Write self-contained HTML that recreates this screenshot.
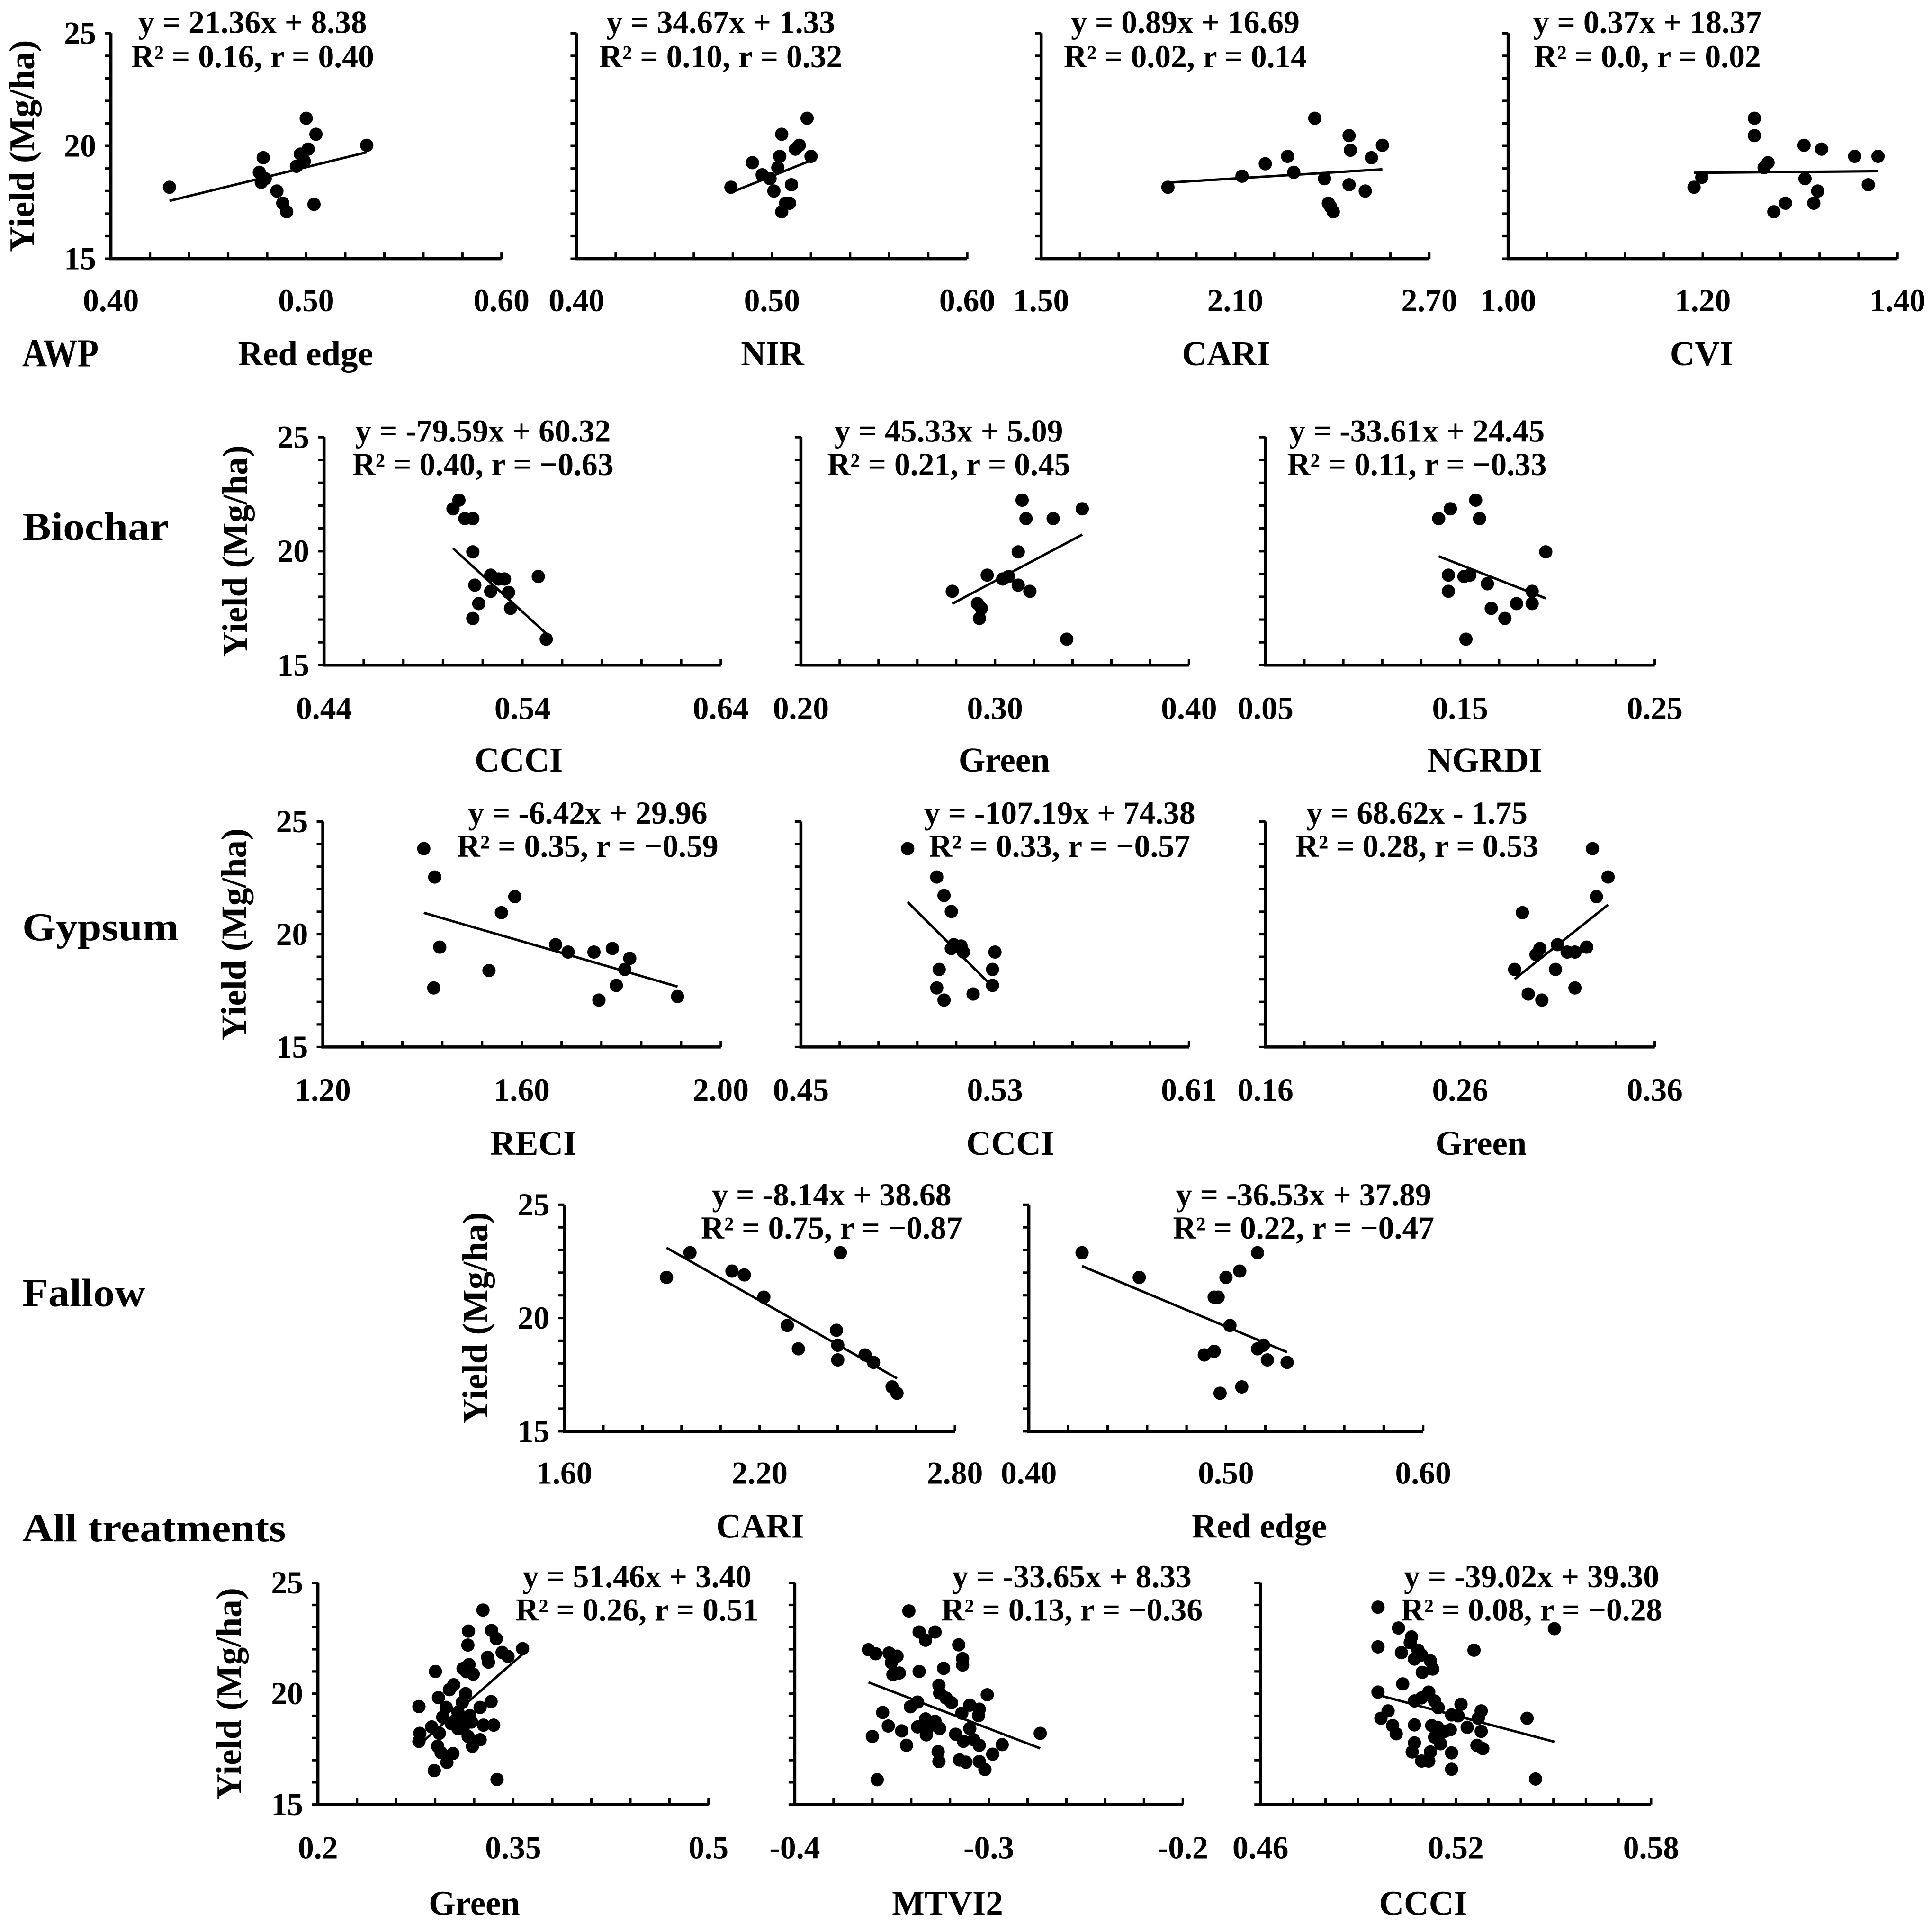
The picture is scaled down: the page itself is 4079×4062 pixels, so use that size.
<!DOCTYPE html>
<html><head><meta charset="utf-8"><style>
html,body{margin:0;padding:0;background:#fff;}
svg{display:block;}
text{font-family:"Liberation Serif","Times New Roman",serif;font-weight:bold;fill:#000;}
</style></head><body>
<svg id="chart" xmlns="http://www.w3.org/2000/svg" width="4079" height="4062" viewBox="0 0 1568 1562" preserveAspectRatio="none">
<rect x="0" y="0" width="1568" height="1562" fill="#fff"/>
<g id="labels">
<text x="18" y="287" font-size="32" textLength="62" lengthAdjust="spacingAndGlyphs" dominant-baseline="central">AWP</text>
<text x="18" y="428" font-size="32" textLength="119" lengthAdjust="spacingAndGlyphs" dominant-baseline="central">Biochar</text>
<text x="18" y="753" font-size="32" textLength="127" lengthAdjust="spacingAndGlyphs" dominant-baseline="central">Gypsum</text>
<text x="18" y="1050" font-size="32" textLength="100" lengthAdjust="spacingAndGlyphs" dominant-baseline="central">Fallow</text>
<text x="18" y="1241" font-size="32" textLength="214" lengthAdjust="spacingAndGlyphs" dominant-baseline="central">All treatments</text>
</g>
</svg>
<script>
// ---- data (x = index value, y = yield Mg/ha) ----
const awpRedEdgeX=[0.430,0.478,0.477,0.476,0.479,0.485,0.488,0.490,0.495,0.497,0.500,0.501,0.505,0.504,0.531,0.499];
const awpRedEdgeY=[18.17,19.48,18.39,18.83,18.55,18.0,17.46,17.08,19.1,19.64,21.23,19.86,20.52,17.41,20.03,19.32];
const awpRedEdgeFit=[21.36,8.38];
const awpNirX=[0.479,0.490,0.495,0.499,0.501,0.503,0.505,0.504,0.505,0.507,0.509,0.510,0.512,0.514,0.518,0.520];
const awpNirY=[18.17,19.26,18.72,18.55,18.0,19.04,20.52,19.54,17.08,17.46,17.46,18.28,19.86,20.03,21.23,19.54];
const awpNirFit=[34.67,1.33];
const awpCariX=[1.892,2.121,2.193,2.262,2.281,2.346,2.376,2.388,2.395,2.403,2.452,2.456,2.452,2.502,2.521,2.555];
const awpCariY=[18.17,18.66,19.21,19.54,18.83,21.23,18.55,17.46,17.30,17.08,20.46,19.81,18.28,18.0,19.48,20.03];
const awpCariFit=[0.89,16.69];
const awpCviX=[1.191,1.199,1.253,1.253,1.263,1.267,1.273,1.285,1.304,1.305,1.314,1.318,1.322,1.356,1.370,1.380];
const awpCviY=[18.17,18.61,21.23,20.46,19.04,19.26,17.08,17.46,20.03,18.55,17.46,18.0,19.86,19.54,18.28,19.54];
const awpCviFit=[0.37,18.37];
const bioCcciX=[0.505,0.508,0.511,0.515,0.515,0.516,0.518,0.515,0.524,0.524,0.528,0.531,0.533,0.534,0.548,0.552];
const bioCcciY=[21.86,22.24,21.43,21.43,19.97,18.51,17.70,17.05,18.95,18.24,18.78,18.78,18.19,17.49,18.89,16.14];
const bioCcciFit=[-79.59,60.32];
const bioGreenX=[0.278,0.291,0.293,0.292,0.296,0.304,0.307,0.312,0.312,0.314,0.316,0.318,0.330,0.337,0.345];
const bioGreenY=[18.24,17.70,17.49,17.05,18.95,18.78,18.89,19.97,18.51,22.24,21.43,18.24,21.43,16.14,21.86];
const bioGreenFit=[45.33,5.09];
const bioNgrdiX=[0.139,0.145,0.144,0.144,0.152,0.153,0.155,0.158,0.160,0.164,0.166,0.173,0.179,0.187,0.187,0.194];
const bioNgrdiY=[21.43,21.86,18.95,18.24,18.89,16.14,18.95,22.24,21.43,18.57,17.49,17.05,17.70,17.70,18.24,19.97];
const bioNgrdiFit=[-33.61,24.45];
const gypReciX=[1.403,1.425,1.435,1.423,1.534,1.559,1.586,1.668,1.693,1.745,1.782,1.790,1.755,1.817,1.807,1.913];
const gypReciY=[23.80,22.54,19.43,17.62,18.39,20.96,21.67,19.54,19.21,19.21,19.37,17.73,17.08,18.93,18.44,17.24];
const gypReciFit=[-6.42,29.96];
const gypCcciX=[0.494,0.506,0.509,0.512,0.513,0.512,0.516,0.517,0.507,0.506,0.509,0.521,0.529,0.530,0.529];
const gypCcciY=[23.80,22.54,21.72,21.01,19.54,19.37,19.48,19.21,18.44,17.62,17.08,17.35,17.73,19.21,18.44];
const gypCcciFit=[-107.19,74.38];
const gypGreenX=[0.288,0.292,0.295,0.299,0.301,0.302,0.309,0.310,0.315,0.319,0.325,0.319,0.330,0.328,0.336];
const gypGreenY=[18.44,20.96,17.35,19.10,19.37,17.08,18.44,19.54,19.21,19.21,19.43,17.62,21.67,23.80,22.54];
const gypGreenFit=[68.62,-1.75];
const falCariX=[1.914,1.986,2.115,2.153,2.213,2.285,2.319,2.448,2.436,2.440,2.440,2.524,2.550,2.607,2.622];
const falCariY=[21.79,22.88,22.07,21.90,20.92,19.67,18.64,22.88,19.46,18.80,18.15,18.37,18.04,16.96,16.68];
const falCariFit=[-8.14,38.68];
const falRedEdgeX=[0.427,0.456,0.489,0.494,0.496,0.494,0.497,0.500,0.502,0.507,0.508,0.516,0.516,0.519,0.521,0.531];
const falRedEdgeY=[22.88,21.79,18.37,20.92,20.92,18.53,16.68,21.79,19.67,22.07,16.96,22.88,18.64,18.80,18.15,18.04];
const falRedEdgeFit=[-36.53,37.89];
const allGreenX=[0.3268,0.3157,0.3334,0.337,0.3152,0.3572,0.3415,0.346,0.3304,0.331,0.2903,0.3161,0.3115,0.3193,0.3141,0.3043,0.301,0.2926,0.3135,0.3109,0.2776,0.333,0.3246,0.2985,0.3076,0.2959,0.3167,0.3024,0.3076,0.318,0.335,0.3272,0.2874,0.2783,0.2776,0.2933,0.3154,0.3246,0.3187,0.292,0.2946,0.3037,0.2991,0.2894,0.3376,0.3089,0.3115];
const allGreenY=[23.77,22.82,22.85,22.48,22.19,22.03,21.86,21.68,21.64,21.42,21.0,21.31,21.13,20.88,20.99,20.40,20.18,19.82,20.0,19.6,19.42,19.64,19.38,19.38,19.16,18.94,19.01,18.65,18.43,18.72,18.58,18.58,18.50,18.21,17.85,18.21,18.07,17.92,17.63,17.63,17.34,17.30,16.90,16.53,16.13,18.87,18.43];
const allGreenFit=[51.46,3.40];
const allMtviX=[-0.3412,-0.3359,-0.3277,-0.3326,-0.3155,-0.3620,-0.3583,-0.3514,-0.3473,-0.3502,-0.3135,-0.3135,-0.3233,-0.3359,-0.3494,-0.3461,-0.3257,-0.3253,-0.3008,-0.3220,-0.3192,-0.3367,-0.3404,-0.3098,-0.3049,-0.3547,-0.3053,-0.3139,-0.3518,-0.3449,-0.3367,-0.3326,-0.3277,-0.3322,-0.3253,-0.3314,-0.3098,-0.3171,-0.3131,-0.3078,-0.3049,-0.3600,-0.3424,-0.2931,-0.2980,-0.2735,-0.3261,-0.3257,-0.3151,-0.3118,-0.3049,-0.3020,-0.3575];
const allMtviY=[23.73,22.78,22.78,22.41,22.20,21.98,21.80,21.83,21.69,21.40,21.58,21.29,21.14,21.00,20.86,20.93,20.38,20.02,19.95,19.80,19.59,19.62,19.41,19.48,19.30,19.15,19.01,19.12,18.54,18.32,18.50,18.86,18.75,18.14,18.43,18.46,18.43,18.17,17.85,17.92,17.67,18.07,17.67,17.70,17.27,18.21,17.38,16.94,17.01,16.91,16.94,16.58,16.12];
const allMtviFit=[-33.65,8.33];
const allCcciX=[0.4961,0.5024,0.5064,0.5060,0.4961,0.5033,0.5084,0.5073,0.5095,0.5122,0.5129,0.5097,0.5256,0.5503,0.5037,0.4961,0.5073,0.5095,0.5117,0.5135,0.5146,0.5187,0.5216,0.5207,0.5278,0.5269,0.5419,0.4992,0.4970,0.5006,0.5017,0.5073,0.5126,0.5144,0.5235,0.5166,0.5183,0.5278,0.5135,0.5153,0.5073,0.5265,0.5283,0.5066,0.5122,0.5187,0.5095,0.5117,0.5187,0.5445];
const allCcciY=[23.90,22.96,22.56,22.30,22.11,21.85,21.96,21.56,21.74,21.48,21.11,20.96,21.96,22.93,20.44,20.07,19.67,19.81,20.07,19.67,19.37,19.04,19.52,19.00,19.22,18.89,18.89,19.22,18.89,18.56,18.19,18.59,18.56,18.48,18.48,18.30,18.37,18.30,18.04,17.74,17.78,17.67,17.52,17.37,17.37,17.33,16.96,16.96,16.59,16.15];
const allCcciFit=[-39.02,39.30];
const yTickLabels=["25","20","15"];

// ---- layout ----
const rows=[
 {top:27,bot:210,eq1:18,eq2:46,tl:244,tt:287},
 {top:355,bot:540,eq1:350,eq2:377,tl:575,tt:617},
 {top:667,bot:850,eq1:660,eq2:687,tl:885,tt:928},
 {top:978,bot:1162,eq1:970,eq2:997,tl:1196,tt:1239},
 {top:1285,bot:1465,eq1:1280,eq2:1307,tl:1500,tt:1545}
];
const panels=[
 {id:'awp-red-edge',r:0,x0:90,x1:407,min:0.40,max:0.60,n:10,ticks:["0.40","0.50","0.60"],title:"Red edge",tx:248,ex:205,e1:"y = 21.36x + 8.38",e2:"R² = 0.16, r = 0.40",X:awpRedEdgeX,Y:awpRedEdgeY,F:awpRedEdgeFit,ylab:true},
 {id:'awp-nir',r:0,x0:468,x1:785,min:0.40,max:0.60,n:10,ticks:["0.40","0.50","0.60"],title:"NIR",tx:627,ex:585,e1:"y = 34.67x + 1.33",e2:"R² = 0.10, r = 0.32",X:awpNirX,Y:awpNirY,F:awpNirFit},
 {id:'awp-cari',r:0,x0:845,x1:1160,min:1.50,max:2.70,n:10,ticks:["1.50","2.10","2.70"],title:"CARI",tx:995,ex:962,e1:"y = 0.89x + 16.69",e2:"R² = 0.02, r = 0.14",X:awpCariX,Y:awpCariY,F:awpCariFit},
 {id:'awp-cvi',r:0,x0:1224,x1:1540,min:1.00,max:1.40,n:10,ticks:["1.00","1.20","1.40"],title:"CVI",tx:1381,ex:1337,e1:"y = 0.37x + 18.37",e2:"R² = 0.0, r = 0.02",X:awpCviX,Y:awpCviY,F:awpCviFit},
 {id:'biochar-ccci',r:1,x0:263,x1:585,min:0.44,max:0.64,n:10,ticks:["0.44","0.54","0.64"],title:"CCCI",tx:421,ex:392,e1:"y = -79.59x + 60.32",e2:"R² = 0.40, r = −0.63",X:bioCcciX,Y:bioCcciY,F:bioCcciFit,ylab:true},
 {id:'biochar-green',r:1,x0:650,x1:965,min:0.20,max:0.40,n:10,ticks:["0.20","0.30","0.40"],title:"Green",tx:815,ex:770,e1:"y = 45.33x + 5.09",e2:"R² = 0.21, r = 0.45",X:bioGreenX,Y:bioGreenY,F:bioGreenFit},
 {id:'biochar-ngrdi',r:1,x0:1027,x1:1343,min:0.05,max:0.25,n:10,ticks:["0.05","0.15","0.25"],title:"NGRDI",tx:1205,ex:1150,e1:"y = -33.61x + 24.45",e2:"R² = 0.11, r = −0.33",X:bioNgrdiX,Y:bioNgrdiY,F:bioNgrdiFit},
 {id:'gypsum-reci',r:2,x0:262,x1:585,min:1.20,max:2.00,n:10,ticks:["1.20","1.60","2.00"],title:"RECI",tx:433,ex:477,e1:"y = -6.42x + 29.96",e2:"R² = 0.35, r = −0.59",X:gypReciX,Y:gypReciY,F:gypReciFit,ylab:true},
 {id:'gypsum-ccci',r:2,x0:650,x1:965,min:0.45,max:0.61,n:10,ticks:["0.45","0.53","0.61"],title:"CCCI",tx:820,ex:860,e1:"y = -107.19x + 74.38",e2:"R² = 0.33, r = −0.57",X:gypCcciX,Y:gypCcciY,F:gypCcciFit},
 {id:'gypsum-green',r:2,x0:1027,x1:1343,min:0.16,max:0.36,n:10,ticks:["0.16","0.26","0.36"],title:"Green",tx:1202,ex:1150,e1:"y = 68.62x - 1.75",e2:"R² = 0.28, r = 0.53",X:gypGreenX,Y:gypGreenY,F:gypGreenFit},
 {id:'fallow-cari',r:3,x0:458,x1:775,min:1.60,max:2.80,n:10,ticks:["1.60","2.20","2.80"],title:"CARI",tx:617,ex:675,e1:"y = -8.14x + 38.68",e2:"R² = 0.75, r = −0.87",X:falCariX,Y:falCariY,F:falCariFit,ylab:true},
 {id:'fallow-red-edge',r:3,x0:835,x1:1155,min:0.40,max:0.60,n:10,ticks:["0.40","0.50","0.60"],title:"Red edge",tx:1022,ex:1058,e1:"y = -36.53x + 37.89",e2:"R² = 0.22, r = −0.47",X:falRedEdgeX,Y:falRedEdgeY,F:falRedEdgeFit},
 {id:'all-green',r:4,x0:258,x1:575,min:0.2,max:0.5,n:10,ticks:["0.2","0.35","0.5"],title:"Green",tx:385,ex:517,e1:"y = 51.46x + 3.40",e2:"R² = 0.26, r = 0.51",X:allGreenX,Y:allGreenY,F:allGreenFit,ylab:true},
 {id:'all-mtvi2',r:4,x0:645,x1:960,min:-0.4,max:-0.2,n:10,ticks:["-0.4","-0.3","-0.2"],title:"MTVI2",tx:769,ex:870,e1:"y = -33.65x + 8.33",e2:"R² = 0.13, r = −0.36",X:allMtviX,Y:allMtviY,F:allMtviFit},
 {id:'all-ccci',r:4,x0:1023,x1:1340,min:0.46,max:0.58,n:12,ticks:["0.46","0.52","0.58"],title:"CCCI",tx:1155,ex:1243,e1:"y = -39.02x + 39.30",e2:"R² = 0.08, r = −0.28",X:allCcciX,Y:allCcciY,F:allCcciFit}
];
const NS='http://www.w3.org/2000/svg';
const svg=document.getElementById('chart');
function mk(tag,attrs,parent){const e=document.createElementNS(NS,tag);for(const k in attrs)e.setAttribute(k,attrs[k]);parent.appendChild(e);return e;}
panels.forEach(p=>{
 const R=rows[p.r];
 const sx=v=>p.x0+(v-p.min)/(p.max-p.min)*(p.x1-p.x0);
 const sy=v=>R.bot-(v-15)/10*(R.bot-R.top);
 const g=mk('g',{},svg);
 
 
 const ax=mk('path',{d:`M${p.x0},${R.top} L${p.x0},${R.bot} L${p.x1},${R.bot}`,fill:'none',stroke:'#000','stroke-width':2.5},g);
 
 
 let td='';
 for(let v=15;v<=25;v++){const y=sy(v);td+=`M${p.x0-5},${y} L${p.x0},${y} `;}
 for(let i=1;i<=p.n;i++){const x=p.x0+i*(p.x1-p.x0)/p.n;td+=`M${x},${R.bot} L${x},${R.bot-5} `;}
 const tk=mk('path',{d:td,stroke:'#000','stroke-width':2,fill:'none'},g);
 
 
 p.ticks.forEach((t,i)=>{
  const v=p.min+i*(p.max-p.min)/2;
  const e=mk('text',{x:sx(v),y:R.tl,'font-size':26,'text-anchor':'middle','dominant-baseline':'central'},g);
  e.textContent=t;
  
  
 });
 const ti=mk('text',{x:p.tx,y:R.tt,'font-size':28,'text-anchor':'middle','dominant-baseline':'central'},g);
 ti.textContent=p.title;
 
 
 if(p.ylab){
  [25,20,15].forEach((v,i)=>{
   const e=mk('text',{x:p.x0-12,y:sy(v),'font-size':26,'text-anchor':'end','dominant-baseline':'central'},g);
   e.textContent=yTickLabels[i];
   
   
  });
  const cy=(R.top+R.bot)/2, cx=p.x0-72;
  const yl=mk('text',{x:cx,y:cy,'font-size':29,'text-anchor':'middle','dominant-baseline':'central',transform:`rotate(-90 ${cx} ${cy})`},g);
  yl.textContent='Yield (Mg/ha)';
  
  
 }
 [p.e1,p.e2].forEach((s,i)=>{
  const e=mk('text',{x:p.ex,y:i?R.eq2:R.eq1,'font-size':26,'text-anchor':'middle','dominant-baseline':'central'},g);
  e.textContent=s;
  
  
 });
 p.X.forEach((xv,i)=>{
  const c=mk('circle',{cx:sx(xv),cy:sy(p.Y[i]),r:5.4,fill:'#000'},g);
  
  
 });
 const xmn=Math.min(...p.X), xmx=Math.max(...p.X);
 const ln=mk('line',{x1:sx(xmn),y1:sy(p.F[0]*xmn+p.F[1]),x2:sx(xmx),y2:sy(p.F[0]*xmx+p.F[1]),stroke:'#000','stroke-width':2},g);
 
 
});
</script>
</body></html>
